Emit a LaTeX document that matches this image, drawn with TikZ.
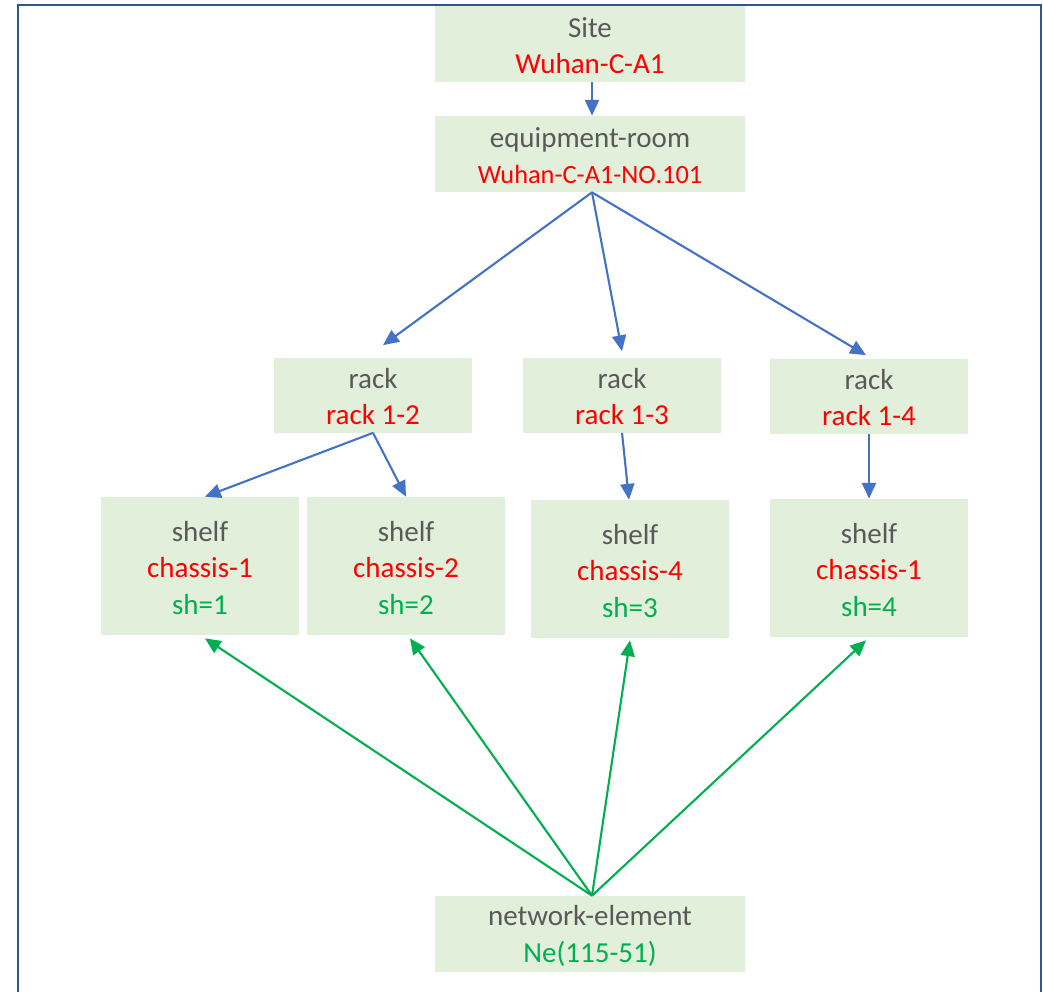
\documentclass[tikz,border=0pt]{standalone}
\usepackage{fontspec}
\setmainfont{Carlito}
\usetikzlibrary{arrows.meta}
\definecolor{boxgreen}{HTML}{E2EFDA}
\definecolor{txtgray}{HTML}{595959}
\definecolor{txtred}{HTML}{FF0000}
\definecolor{txtgreen}{HTML}{00B050}
\definecolor{arrblue}{HTML}{4472C4}
\definecolor{frameblue}{HTML}{2F5597}
\newcommand{\topgap}{\rule{0pt}{13.6pt}}

\begin{document}
\begin{tikzpicture}[x=0.02cm, y=-0.02cm,
  box/.style={fill=boxgreen, align=center, inner sep=0pt,
              font=\fontsize{16.5}{20.6}\selectfont, text=txtgray},
  wide/.style={box, minimum width=6.22cm, minimum height=1.52cm},
  rack/.style={box, minimum width=3.96cm, minimum height=1.5cm},
  shelf/.style={box, minimum width=3.96cm, minimum height=2.76cm},
  arr/.style={-{Triangle[length=9pt,width=8pt]}, line width=1.2pt, arrblue},
  garr/.style={arr, txtgreen},
]
\useasboundingbox (0,0) rectangle (1043,991);
% ---- page frame ----
\draw[frameblue, line width=1.6pt] (18,995) -- (18,5) -- (1041,5) -- (1041,995);

% ---- top: site and room ----
\node[wide] (site) at (590,44) {\topgap Site\\\textcolor{txtred}{Wuhan-C-A1}};
\node[wide] (room) at (590,154)
  {\topgap equipment-room\\
   \textcolor{txtred}{\fontsize{15}{20.6}\selectfont Wuhan-C-A1-NO.101}};

% ---- racks ----
\node[rack] (rackA) at (373,395) {\topgap rack\\\textcolor{txtred}{rack 1-2}};
\node[rack] (rackB) at (622,395) {\topgap rack\\\textcolor{txtred}{rack 1-3}};
\node[rack] (rackC) at (869,396) {\topgap rack\\\textcolor{txtred}{rack 1-4}};

% ---- shelves ----
\node[shelf] (shelfA) at (200,566)
  {\topgap shelf\\\textcolor{txtred}{chassis-1}\\\textcolor{txtgreen}{sh=1}};
\node[shelf] (shelfB) at (406,566)
  {\topgap shelf\\\textcolor{txtred}{chassis-2}\\\textcolor{txtgreen}{sh=2}};
\node[shelf] (shelfC) at (630,569)
  {\topgap shelf\\\textcolor{txtred}{chassis-4}\\\textcolor{txtgreen}{sh=3}};
\node[shelf] (shelfD) at (869,568)
  {\topgap shelf\\\textcolor{txtred}{chassis-1}\\\textcolor{txtgreen}{sh=4}};

% ---- network element ----
\node[wide] (ne) at (590,934)
  {\topgap network-element\\\textcolor{txtgreen}{Ne(115-51)}};

% ---- containment arrows ----
\draw[arr] ([shift={(2,0)}]site.south) -- ([shift={(2,0)}]room.north);
\draw[arr] ([shift={(2,0)}]room.south) -- ([shift={(10,-12)}]rackA.north);
\draw[arr] ([shift={(2,0)}]room.south) -- ([shift={(0,-6)}]rackB.north);
\draw[arr] ([shift={(2,0)}]room.south) -- ([shift={(-3,-3)}]rackC.north);
\draw[arr] (rackA.south) -- ([shift={(5,0)}]shelfA.north);
\draw[arr] (rackA.south) -- (shelfB.north);
\draw[arr] (rackB.south) -- ([shift={(-1,0)}]shelfC.north);
\draw[arr] (rackC.south) -- (shelfD.north);

% ---- NE to shelves ----
\draw[garr] ([shift={(2,0)}]ne.north) -- ([shift={(5,3)}]shelfA.south);
\draw[garr] ([shift={(2,0)}]ne.north) -- ([shift={(4,3)}]shelfB.south);
\draw[garr] ([shift={(2,0)}]ne.north) -- ([shift={(0,2)}]shelfC.south);
\draw[garr] ([shift={(2,0)}]ne.north) -- ([shift={(-3,3)}]shelfD.south);
\end{tikzpicture}
\end{document}
